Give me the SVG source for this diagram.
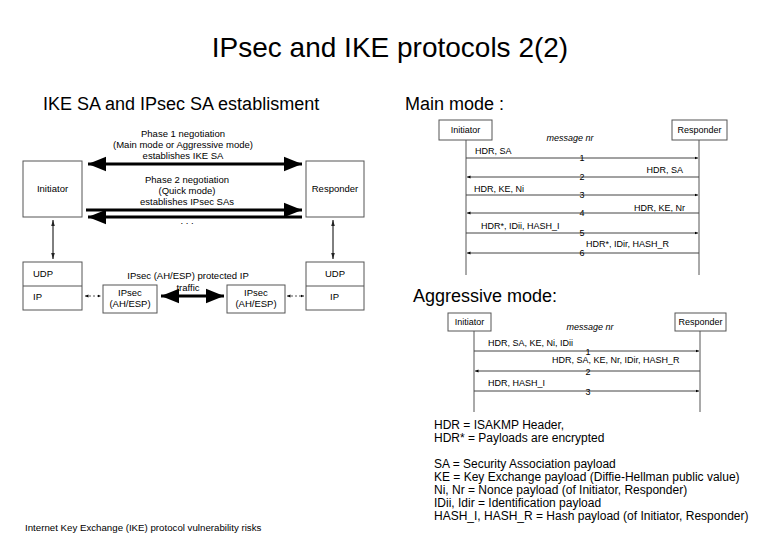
<svg xmlns="http://www.w3.org/2000/svg" width="780" height="540" viewBox="0 0 780 540">
<style>
text{font-family:"Liberation Sans",Arial,sans-serif;fill:#000}
.s{font-size:9.5px}
.m{font-size:9px}
.b{fill:#fff;stroke:#555;stroke-width:1}
.l{stroke:#555;stroke-width:1;fill:none}
.msg{stroke:#444;stroke-width:1}
.thick{stroke:#000;stroke-width:3}
.thin{stroke:#000;stroke-width:1}
.dash{stroke:#555;stroke-width:1;stroke-dasharray:2,2}
</style>
<defs>
<marker id="ah" viewBox="0 0 10 10" refX="10" refY="5" markerWidth="6" markerHeight="6" orient="auto-start-reverse"><path d="M0,1L10,5L0,9z" fill="#000"/></marker>
<marker id="at" viewBox="0 0 10 10" refX="10" refY="5" markerWidth="3.5" markerHeight="3.5" orient="auto-start-reverse"><path d="M0,1L10,5L0,9z" fill="#000"/></marker>
<marker id="as" viewBox="0 0 10 10" refX="10" refY="5" markerWidth="6" markerHeight="6" orient="auto-start-reverse"><path d="M0,2L10,5L0,8z" fill="#222"/></marker>
</defs>
<rect width="780" height="540" fill="#fff"/>
<text x="390" y="57" font-size="28" text-anchor="middle">IPsec and IKE protocols 2(2)</text>
<text x="43" y="110" font-size="18">IKE SA and IPsec SA establisment</text>
<text x="405" y="110" font-size="18">Main mode :</text>
<text x="413" y="302" font-size="18">Aggressive mode:</text>

<g id="left-nodes">
<g id="initiator"><rect class="b" x="23" y="161" width="59" height="56"/><text class="s" x="52.5" y="192" text-anchor="middle">Initiator</text></g>
<g id="responder"><rect class="b" x="306" y="161" width="58" height="56"/><text class="s" x="335" y="192" text-anchor="middle">Responder</text></g>
<g id="stack-left"><rect class="b" x="23" y="262" width="59" height="48"/><line class="l" x1="23" y1="286" x2="82" y2="286"/><text class="s" x="33" y="277">UDP</text><text class="s" x="33" y="300">IP</text></g>
<g id="stack-right"><rect class="b" x="306" y="262" width="58" height="48"/><line class="l" x1="306" y1="286" x2="364" y2="286"/><text class="s" x="325" y="277">UDP</text><text class="s" x="330" y="300">IP</text></g>
<g id="ipsec-left"><rect class="b" x="103" y="285" width="54" height="28"/><text class="s" x="130" y="296" text-anchor="middle">IPsec</text><text class="s" x="130" y="307" text-anchor="middle">(AH/ESP)</text></g>
<g id="ipsec-right"><rect class="b" x="227" y="285" width="58" height="28"/><text class="s" x="256" y="296" text-anchor="middle">IPsec</text><text class="s" x="256" y="307" text-anchor="middle">(AH/ESP)</text></g>
<text class="s" x="183" y="137" text-anchor="middle">Phase 1 negotiation</text>
<text class="s" x="183" y="148" text-anchor="middle">(Main mode or Aggressive mode)</text>
<text class="s" x="183" y="159" text-anchor="middle">establishes IKE SA</text>
<text class="s" x="187" y="183" text-anchor="middle">Phase 2 negotiation</text>
<text class="s" x="187" y="194" text-anchor="middle">(Quick mode)</text>
<text class="s" x="187" y="205" text-anchor="middle">establishes IPsec SAs</text>
<text class="s" x="187" y="224" text-anchor="middle">. . .</text>
<text class="s" x="188" y="279" text-anchor="middle">IPsec (AH/ESP) protected IP</text>
<text class="s" x="188" y="291" text-anchor="middle">traffic</text>
</g>

<g id="left-connectors">
<line class="thick" x1="88" y1="164" x2="302" y2="164" marker-start="url(#ah)" marker-end="url(#ah)"/>
<line class="thick" x1="86" y1="210" x2="302" y2="210" marker-end="url(#ah)"/>
<line class="thick" x1="302" y1="217" x2="88" y2="217" marker-end="url(#ah)"/>
<line class="thin" x1="53" y1="220" x2="53" y2="259" marker-start="url(#as)" marker-end="url(#as)"/>
<line class="thin" x1="333" y1="220" x2="333" y2="259" marker-start="url(#as)" marker-end="url(#as)"/>
<line class="dash" x1="85" y1="296" x2="101" y2="296" marker-start="url(#at)" marker-end="url(#at)"/>
<line class="dash" x1="287" y1="296" x2="304" y2="296" marker-start="url(#at)" marker-end="url(#at)"/>
<line class="thick" x1="161" y1="296" x2="224" y2="296" marker-start="url(#ah)" marker-end="url(#ah)"/>
</g>

<g id="main-mode">
<g id="mm-initiator"><rect class="b" x="439" y="120" width="53" height="20"/><text class="m" x="465.5" y="133" text-anchor="middle">Initiator</text></g>
<g id="mm-responder"><rect class="b" x="672" y="120" width="55" height="20"/><text class="m" x="699.5" y="133" text-anchor="middle">Responder</text></g>
<text class="m" x="570" y="141" text-anchor="middle" font-style="italic">message nr</text>
<g id="mm-connectors">
<line class="l" x1="466" y1="140" x2="466" y2="275"/>
<line class="l" x1="699" y1="140" x2="699" y2="275"/>
<line class="msg" x1="466" y1="158" x2="698" y2="158" marker-end="url(#at)"/>
<line class="msg" x1="699" y1="177" x2="467" y2="177" stroke="#bbb" marker-end="url(#at)"/>
<line class="msg" x1="466" y1="195" x2="698" y2="195" marker-end="url(#at)"/>
<line class="msg" x1="699" y1="213" x2="467" y2="213" stroke="#bbb" marker-end="url(#at)"/>
<line class="msg" x1="466" y1="233" x2="698" y2="233" marker-end="url(#at)"/>
<line class="msg" x1="699" y1="253" x2="467" y2="253" marker-end="url(#at)"/>
</g>
<text class="m" x="475" y="154">HDR, SA</text>
<text class="m" x="683" y="173" text-anchor="end">HDR, SA</text>
<text class="m" x="474" y="192">HDR, KE, Ni</text>
<text class="m" x="685" y="211" text-anchor="end">HDR, KE, Nr</text>
<text class="m" x="481" y="229">HDR*, IDii, HASH_I</text>
<text class="m" x="586" y="247">HDR*, IDir, HASH_R</text>
<text class="m" x="582" y="161" text-anchor="middle">1</text>
<text class="m" x="582" y="180" text-anchor="middle">2</text>
<text class="m" x="582" y="198" text-anchor="middle">3</text>
<text class="m" x="582" y="216" text-anchor="middle">4</text>
<text class="m" x="582" y="236" text-anchor="middle">5</text>
<text class="m" x="582" y="256" text-anchor="middle">6</text>
</g>

<g id="aggressive-mode">
<g id="am-initiator"><rect class="b" x="448" y="313" width="43" height="18"/><text class="m" x="469.5" y="325" text-anchor="middle">Initiator</text></g>
<g id="am-responder"><rect class="b" x="675" y="313" width="51" height="18"/><text class="m" x="700.5" y="325" text-anchor="middle">Responder</text></g>
<text class="m" x="590" y="330" text-anchor="middle" font-style="italic">message nr</text>
<g id="am-connectors">
<line class="l" x1="474" y1="331" x2="474" y2="412"/>
<line class="l" x1="700" y1="331" x2="700" y2="412"/>
<line class="msg" x1="474" y1="351" x2="699" y2="351" marker-end="url(#at)"/>
<line class="msg" x1="700" y1="371" x2="475" y2="371" stroke="#bbb" marker-end="url(#at)"/>
<line class="msg" x1="474" y1="391" x2="699" y2="391" marker-end="url(#at)"/>
</g>
<text class="m" x="488" y="346">HDR, SA, KE, Ni, IDii</text>
<text class="m" x="552" y="363">HDR, SA, KE, Nr, IDir, HASH_R</text>
<text class="m" x="488" y="386">HDR, HASH_I</text>
<text class="m" x="588" y="355" text-anchor="middle">1</text>
<text class="m" x="588" y="375" text-anchor="middle">2</text>
<text class="m" x="588" y="395" text-anchor="middle">3</text>
</g>

<g font-size="12">
<text x="434" y="429">HDR = ISAKMP Header,</text>
<text x="434" y="442">HDR* = Payloads are encrypted</text>
<text x="434" y="468">SA = Security Association payload</text>
<text x="434" y="481">KE = Key Exchange payload (Diffie-Hellman public value)</text>
<text x="434" y="494">Ni, Nr = Nonce payload (of Initiator, Responder)</text>
<text x="434" y="507">IDii, Idir = Identification payload</text>
<text x="434" y="520">HASH_I, HASH_R = Hash payload (of Initiator, Responder)</text>
</g>
<text x="25" y="531" font-size="9.7">Internet Key Exchange (IKE) protocol vulnerability risks</text>
</svg>
